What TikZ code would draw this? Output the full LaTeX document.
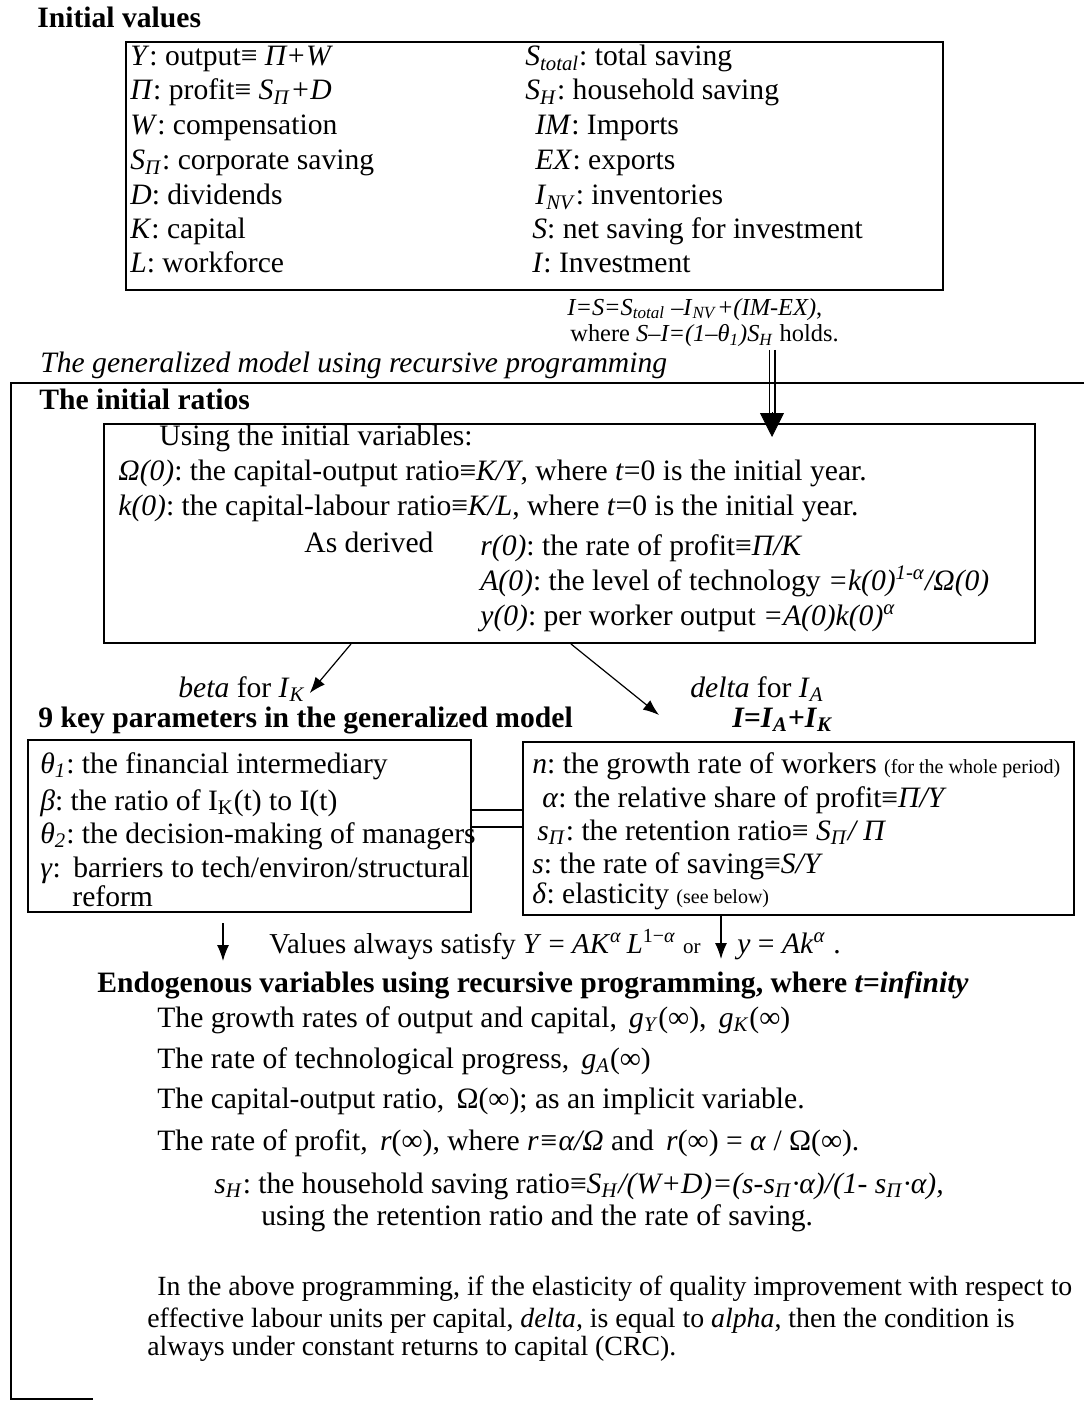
\documentclass[tikz,border=0pt]{standalone}
\usepackage{fontspec}
\setmainfont{Liberation Serif}
\usepackage{tikz}
\usetikzlibrary{arrows.meta,positioning,fit}
\newcommand\lowr[1]{\textsubscript{#1}}
\newcommand\uppr[1]{\textsuperscript{#1}}
\frenchspacing

\begin{document}
\begin{tikzpicture}[x=0.5pt,y=-0.5pt,
		txt/.style={anchor=base west, inner sep=0pt, font=\fontsize{14.8}{17}\selectfont},
		small/.style={txt, font=\fontsize{12.2}{14}\selectfont},
		para/.style={txt, font=\fontsize{13.9}{16}\selectfont},
		head/.style={txt, font=\fontsize{14.8}{17}\selectfont\bfseries},
		box/.style={draw, line width=1pt, inner sep=0pt},
		arr/.style={-{Latex[length=8pt,width=6pt]}, line width=0.6pt}]
	\useasboundingbox (0,0) rectangle (1084,1401);
	
	% initial values
	\node[head] (init) at (37,28) {Initial values};
	\node[box, fit={(126,42) (943,290)}] (vals) {};
	\node[txt] (Y) at (130,66) {\textit{Y}: output≡ \textit{Π+W}};
	\node[txt] (Pi) at (130,100) {\textit{Π}: profit≡ \textit{S}\lowr{\textit{Π}}\textit{+D}};
	\node[txt] (W) at (130,135) {\textit{W}: compensation};
	\node[txt] (SPi) at (130,170) {\textit{S}\lowr{\textit{Π}}: corporate saving};
	\node[txt] (D) at (130,205) {\textit{D}: dividends};
	\node[txt] (K) at (130,239) {\textit{K}: capital};
	\node[txt] (L) at (130,273) {\textit{L}: workforce};
	\node[txt] (Stot) at (525,66) {\textit{S}\lowr{\textit{total}}: total saving};
	\node[txt] (SH) at (525,100) {\textit{S}\lowr{\textit{H}}: household saving};
	\node[txt] (IM) at (535,135) {\textit{IM}: Imports};
	\node[txt] (EX) at (535,170) {\textit{EX}: exports};
	\node[txt] (INV) at (535,205) {\textit{I}\lowr{\textit{NV}}: inventories};
	\node[txt] (S) at (532,239) {\textit{S}: net saving for investment};
	\node[txt] (I) at (532,273) {\textit{I}: Investment};
	\node[small] (eqn) at (567,315) {\textit{I=S=S}\lowr{\textit{total}} \textit{–I}\lowr{\textit{NV}}\textit{+(IM-EX)},};
	\node[small] (where) at (570,342) {where \textit{S–I=(1–θ}\lowr{\textit{1}}\textit{)S}\lowr{\textit{H}} holds.};
	
	% the generalized model
	\node[txt, font=\fontsize{14.8}{17}\selectfont\itshape] (model) at (40,372) {The generalized model using recursive programming};
	\draw[line width=1pt] (1084,383) -- (11,383) -- (11,1399) -- (93,1399);
	\node[head] (ratiohead) at (39,409) {The initial ratios};
	\node[box, fit={(104,424) (1035,643)}] (ratios) {};
	\node[txt] (using) at (159,445) {Using the initial variables:};
	\node[txt] (Om0) at (118,480) {\textit{Ω(0)}: the capital-output ratio≡\textit{K/Y}, where \textit{t}=0 is the initial year.};
	\node[txt] (k0) at (118,515) {\textit{k(0)}: the capital-labour ratio≡\textit{K/L}, where \textit{t}=0 is the initial year.};
	\node[txt] (derived) at (304,552) {As derived};
	\node[txt] (r0) at (480,555) {\textit{r(0)}: the rate of profit≡\textit{Π/K}};
	\node[txt] (A0) at (480,590) {\textit{A(0)}: the level of technology \textit{=k(0)}\uppr{\textit{1-α}}\textit{/Ω(0)}};
	\node[txt] (y0) at (480,625) {\textit{y(0)}: per worker output \textit{=A(0)k(0)}\uppr{\textit{α}}};
	
	\coordinate (dbl) at (772,350);
	\draw[line width=0.9pt] ([xshift=-1.3pt]dbl) -- ++(0,66) ([xshift=1.3pt]dbl) -- ++(0,66);
	\draw[-{Triangle[length=12pt,width=12pt]}] ([yshift=-31pt]dbl) -- ([yshift=-7pt]dbl |- ratios.north);
	
	\node[txt] (beta) at (178,697) {\textit{beta} for \textit{I}\lowr{\textit{K}}};
	\node[txt] (delta) at (690,697) {\textit{delta} for \textit{I}\lowr{\textit{A}}};
	\node[head] (sumI) at (732,727) {\textit{I=I}\lowr{\textit{A}}\textit{+I}\lowr{\textit{K}}};
	\draw[arr] ([xshift=124pt]ratios.south west) -- ([xshift=2pt, yshift=2pt]beta.base east);
	\draw[arr] ([xshift=234pt]ratios.south west) -- ([xshift=-15.5pt, yshift=-9pt]delta.base west);
	
	% parameters
	\node[head] (keyhead) at (38,727) {9 key parameters in the generalized model};
	\node[box, fit={(28,740) (471,912)}] (params) {};
	\begin{scope}[every node/.append style={font=\fontsize{14.6}{17}\selectfont}]
		\node[txt] (th1) at (40,773) {\textit{θ}\lowr{\textit{1}}: the financial intermediary};
		\node[txt] (bet) at (40,810) {\textit{β}: the ratio of I\lowr{K}(t) to I(t)};
		\node[txt] (th2) at (40,843) {\textit{θ}\lowr{\textit{2}}: the decision-making of managers};
		\node[txt] (gam) at (40,877) {\textit{γ}:\, barriers to tech/environ/structural};
		\node[txt] (ref) at (72,906) {reform};
	\end{scope}
	\node[box, fit={(523,742) (1074,915)}] (exog) {};
	\node[txt] (n) at (532,773) {\textit{n}: the growth rate of workers {\fontsize{10}{12}\selectfont(for the whole period)}};
	\node[txt] (alp) at (542,807) {\textit{α}: the relative share of profit≡\textit{Π/Y}};
	\node[txt] (sPi) at (537,840) {\textit{s}\lowr{\textit{Π}}: the retention ratio≡ \textit{S}\lowr{\textit{Π}}\textit{/ Π}};
	\node[txt] (s) at (532,873) {\textit{s}: the rate of saving≡\textit{S/Y}};
	\node[txt] (del) at (532,903) {\textit{δ}: elasticity {\fontsize{10}{12}\selectfont(see below)}};
	\draw[line width=1pt] ([yshift=8pt]params.east) -- ([yshift=8pt]params.east -| exog.west);
	\draw[line width=1pt] ([yshift=-0.5pt]params.east) -- ([yshift=-0.5pt]params.east -| exog.west);
	
	% endogenous
	\node[txt, font=\fontsize{14.4}{17}\selectfont] (sat) at (269,953) {Values always satisfy \textit{Y} = \textit{AK}\uppr{\textit{α}}\,\textit{L}\uppr{1−\textit{α}} {\fontsize{10.5}{13}\selectfont or}};
	\node[txt] (ysat) at (737,953) {\textit{y} = \textit{Ak}\uppr{\textit{α}} .};
	\draw[arr] ([xshift=98pt, yshift=-5pt]params.south west) -- ++(0,38);
	\draw[arr] ([xshift=-8pt]exog.south -| ysat.west) -- ++(0,43);
	\node[head] (endo) at (97,992) {Endogenous variables using recursive programming, where \textit{t=infinity}};
	\node[txt] (gY) at (157,1027) {The growth rates of output and capital, \,\textit{g}\lowr{\textit{Y}}(∞), \,\textit{g}\lowr{\textit{K}}(∞)};
	\node[txt] (gA) at (157,1068) {The rate of technological progress, \,\textit{g}\lowr{\textit{A}}(∞)};
	\node[txt] (Om) at (157,1108) {The capital-output ratio, \,Ω(∞); as an implicit variable.};
	\node[txt] (rinf) at (157,1150) {The rate of profit, \,\textit{r}(∞), where \textit{r≡α/Ω} and \,\textit{r}(∞) = \textit{α} / Ω(∞).};
	\node[txt] (sH) at (214,1193) {\textit{s}\lowr{\textit{H}}: the household saving ratio≡\textit{S}\lowr{\textit{H}}\textit{/(W+D)=(s-s}\lowr{\textit{Π}}\textit{·α)/(1- s}\lowr{\textit{Π}}\textit{·α),}};
	\node[txt] (usng) at (261,1225) {using the retention ratio and the rate of saving.};
	\node[para] (par1) at (157,1295) {In the above programming, if the elasticity of quality improvement with respect to};
	\node[para] (par2) at (147,1327) {effective labour units per capital, \textit{delta,} is equal to \textit{alpha}, then the condition is};
	\node[para] (par3) at (147,1355) {always under constant returns to capital (CRC).};
	
\end{tikzpicture}
\end{document}
